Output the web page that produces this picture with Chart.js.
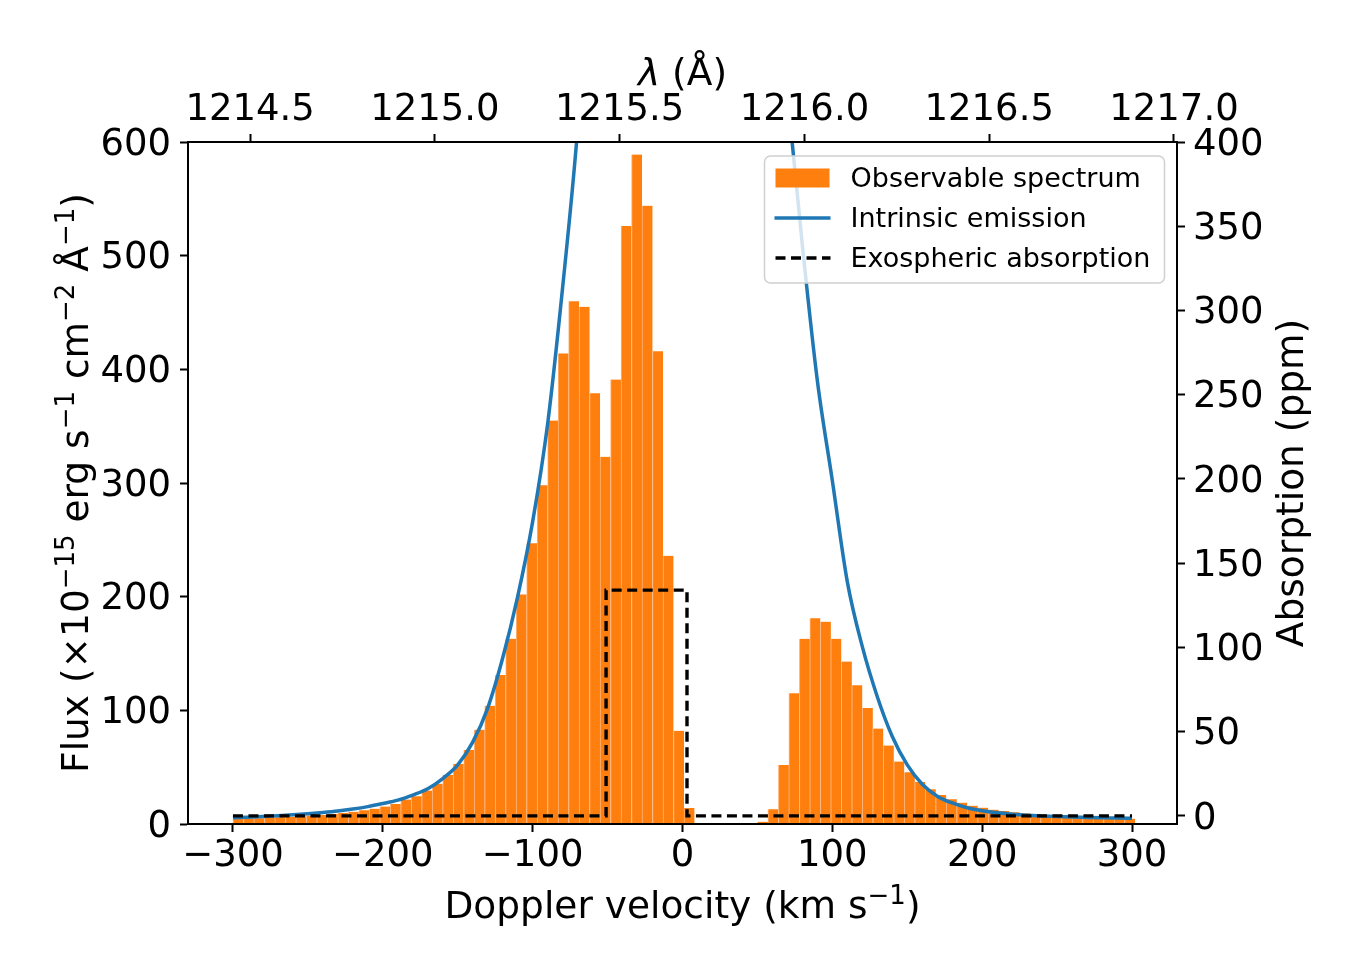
<!DOCTYPE html>
<html>
<head>
<meta charset="utf-8">
<title>Lyman-alpha spectrum</title>
<script src="https://cdn.jsdelivr.net/npm/chart.js@4.4.1/dist/chart.umd.min.js"></script>
<style>
  body { margin: 0; background: #fff; }
  canvas { display: block; }
</style>
</head>
<body>
<canvas id="myChart" width="1350" height="975"></canvas>
<script>
// histogram bins, 7 km/s wide, first edge at -300 km/s
const binStart = -300;
const binWidth = 7;

// observable spectrum, one value per bin (x1e-15 erg s-1 cm-2 A-1)
const observedFlux = [
  4.5, 4.8, 5.1, 5.5, 5.9, 6.3, 6.8, 7.4, 8.0, 8.8,
  9.7, 10.8, 12.0, 13.5, 15.3, 17.5, 21.5, 24.5, 29.5, 35.5,
  43, 53, 65, 83, 104, 131, 163, 202, 247, 298,
  355, 414, 460, 455, 379, 323, 391, 526, 589, 544,
  416, 236, 82, 14, 0, 0, 0, 0, 0, 0,
  2, 13, 52, 115, 163, 181, 178, 163, 143, 122,
  102, 84, 69, 55, 45.5, 37, 30.5, 25.5, 21.7, 18.8,
  16.1, 14.4, 12.6, 11.4, 10.3, 9.4, 8.8, 7.9, 7.3, 6.7,
  6.5, 5.9, 5.6, 5.3, 5.0, 4.7
];

// intrinsic emission line
const emissionVelocity = [
  -300, -290, -280, -270, -260, -250, -240, -230, -220, -210,
  -200, -190, -180, -170, -160, -150, -140, -130, -120, -110,
  -100, -90, -80, -70, -60,
  60, 70, 80, 90, 100, 110, 120, 130, 140, 150,
  160, 170, 180, 190, 200, 210, 220, 230, 240, 250,
  260, 270, 280, 290, 300
];
const emissionFlux = [
  5.5, 6.0, 6.6, 7.3, 8.1, 9.1, 10.2, 11.5, 13.2, 15.3,
  18.0, 21.0, 25.5, 31, 40, 52, 72, 102, 146, 200,
  266, 352, 472, 611, 800,
  800, 642, 509, 390, 302, 213, 156, 112, 77, 52,
  35, 24.5, 18.5, 14.3, 11.6, 9.8, 8.6, 7.7, 7.0, 6.5,
  6.1, 5.8, 5.5, 5.2, 5.0
];

// exospheric absorption (ppm), step profile
const absorptionVelocity = [-300, -51, -51, 3, 3, 300];
const absorptionPpm = [0, 0, 134, 134, 0, 0];

// ticks
const velocityTicks = [-300, -200, -100, 0, 100, 200, 300];
const fluxTicks = [0, 100, 200, 300, 400, 500, 600];
const absorptionTicks = [0, 50, 100, 150, 200, 250, 300, 350, 400];
const wavelengthTicks = [1214.5, 1215.0, 1215.5, 1216.0, 1216.5, 1217.0];

const legendLabels = ["Observable spectrum", "Intrinsic emission", "Exospheric absorption"];

const LYA = 1215.67;       // rest wavelength (A)
const C_KMS = 299792.458;
const V_MIN = -330, V_MAX = 330;

// axis titles, split so the exponents can be drawn raised (like mathtext)
const M = "\u2212";
const fluxTitle = [
  { t: "Flux (\u00D710" }, { t: M + "15", sup: true }, { t: " erg s" }, { t: M + "1", sup: true },
  { t: " cm" }, { t: M + "2", sup: true }, { t: " \u00C5" }, { t: M + "1", sup: true }, { t: ")" }
];
const velocityTitle = [{ t: "Doppler velocity (km s" }, { t: M + "1", sup: true }, { t: ")" }];
const wavelengthTitle = [{ t: "\u03BB", it: true }, { t: " (\u00C5)" }];
const absorptionTitle = [{ t: "Absorption (ppm)" }];

Chart.defaults.font.family = "'DejaVu Sans', sans-serif";
Chart.defaults.color = "#000";

const bigFont = { size: 37, lineHeight: 1.2 };
const gridOpts = { drawOnChartArea: false, drawTicks: true, tickLength: 8, tickWidth: 2, tickColor: "#000", offset: false };
const borderOpts = { display: true, color: "#000", width: 2, z: 1 };

const minus = v => String(v).replace("-", M);
const useTicks = list => scale => { scale.ticks = list.map(v => ({ value: v })); };

let barData = observedFlux.map((f, i) => ({ x: binStart + binWidth * (i + 0.5), y: f }));
let emissionData = emissionVelocity.map((v, i) => ({ x: v, y: emissionFlux[i] }));
let absorptionData = absorptionVelocity.map((v, i) => ({ x: v, y: absorptionPpm[i] }));

function drawTitle(ctx, parts, x, y, angle) {
  ctx.save();
  ctx.translate(x, y);
  ctx.rotate(angle);
  ctx.fillStyle = "#000";
  ctx.textAlign = "left";
  ctx.textBaseline = "alphabetic";
  const fontOf = p => (p.it ? "italic " : "") + (p.sup ? 26 : 37.5) + "px 'DejaVu Sans'";
  let w = 0;
  parts.forEach(p => { ctx.font = fontOf(p); w += ctx.measureText(p.t).width; });
  let cx = -w / 2;
  parts.forEach(p => {
    ctx.font = fontOf(p);
    ctx.fillText(p.t, cx, p.sup ? -14 : 0);
    cx += ctx.measureText(p.t).width;
  });
  ctx.restore();
}

//TITLES + LEGEND (matplotlib style, legend inside the axes)
const extras = {
  id: "extras",
  afterDraw(chart) {
    const ctx = chart.ctx;
    const area = chart.chartArea;
    const midX = (area.left + area.right) / 2;
    const midY = (area.top + area.bottom) / 2;

    drawTitle(ctx, velocityTitle, midX, 918, 0);
    drawTitle(ctx, wavelengthTitle, midX, 85, 0);
    drawTitle(ctx, fluxTitle, 88, midY, -Math.PI / 2);
    drawTitle(ctx, absorptionTitle, 1303, midY, -Math.PI / 2);

    let bx = area.right - 412.5, by = area.top + 14, bw = 400, bh = 127;
    ctx.save();
    ctx.beginPath();
    ctx.roundRect(bx, by, bw, bh, 6);
    ctx.fillStyle = "rgba(255,255,255,0.8)";
    ctx.fill();
    ctx.lineWidth = 1.5;
    ctx.strokeStyle = "#d0d0d0";
    ctx.stroke();

    const ds = chart.data.datasets;
    let hx = bx + 11;
    ctx.fillStyle = ds[0].backgroundColor;
    ctx.fillRect(hx, by + 12.5, 54, 19);

    ctx.lineWidth = ds[1].borderWidth;
    ctx.strokeStyle = ds[1].borderColor;
    ctx.beginPath();
    ctx.moveTo(hx - 1, by + 62);
    ctx.lineTo(hx + 55, by + 62);
    ctx.stroke();

    ctx.lineWidth = ds[2].borderWidth;
    ctx.strokeStyle = ds[2].borderColor;
    ctx.setLineDash(ds[2].borderDash);
    ctx.beginPath();
    ctx.moveTo(hx, by + 102);
    ctx.lineTo(hx + 55, by + 102);
    ctx.stroke();
    ctx.setLineDash([]);

    ctx.font = "27px 'DejaVu Sans'";
    ctx.fillStyle = "#000";
    ctx.textAlign = "left";
    ctx.textBaseline = "middle";
    legendLabels.forEach((t, i) => ctx.fillText(t, bx + 86, by + 24 + 40 * i));
    ctx.restore();
  }
};

//CHART
const ctx = document.getElementById("myChart").getContext("2d");
let myChart = new Chart(ctx, {
  type: "bar",
  data: {
    datasets: [
      {
        type: "bar",
        label: legendLabels[0],
        data: barData,
        backgroundColor: "#ff7f0e",
        borderColor: "#ffb47a",
        borderWidth: { top: 0, right: 0, bottom: 0, left: 1 },
        borderSkipped: false,
        barPercentage: 1,
        categoryPercentage: 1,
        xAxisID: "x",
        yAxisID: "y",
        order: 3
      },
      {
        type: "line",
        label: legendLabels[1],
        data: emissionData,
        borderColor: "#1f77b4",
        borderWidth: 3.5,
        pointRadius: 0,
        cubicInterpolationMode: "monotone",
        xAxisID: "x",
        yAxisID: "y",
        order: 2
      },
      {
        type: "line",
        label: legendLabels[2],
        data: absorptionData,
        borderColor: "#000000",
        borderWidth: 3.4,
        borderDash: [10, 5.5],
        borderJoinStyle: "miter",
        pointRadius: 0,
        tension: 0,
        xAxisID: "x",
        yAxisID: "y2",
        order: 1
      }
    ]
  },
  options: {
    responsive: false,
    devicePixelRatio: 1,
    animation: false,
    layout: { padding: 0 },
    plugins: {
      legend: { display: false },
      tooltip: { enabled: false }
    },
    scales: {
      x: {
        type: "linear", position: "bottom", min: V_MIN, max: V_MAX, offset: false,
        grid: gridOpts, border: borderOpts,
        afterBuildTicks: useTicks(velocityTicks),
        afterFit: s => { s.height = 151; },
        ticks: { font: bigFont, padding: 2, maxRotation: 0, autoSkip: false, callback: v => minus(v) }
      },
      x2: {
        type: "linear", position: "top",
        min: LYA * (1 + V_MIN / C_KMS), max: LYA * (1 + V_MAX / C_KMS), offset: false,
        grid: gridOpts, border: borderOpts,
        afterBuildTicks: useTicks(wavelengthTicks),
        afterFit: s => { s.height = 142; },
        ticks: { font: bigFont, padding: 1, maxRotation: 0, autoSkip: false, callback: v => v.toFixed(1) }
      },
      y: {
        type: "linear", position: "left", min: 0, max: 600,
        grid: gridOpts, border: borderOpts,
        afterBuildTicks: useTicks(fluxTicks),
        afterFit: s => { s.width = 188; },
        ticks: { font: bigFont, padding: 9, labelOffset: 3, autoSkip: false }
      },
      y2: {
        type: "linear", position: "right", min: -4.8, max: 400,
        grid: gridOpts, border: borderOpts,
        afterBuildTicks: useTicks(absorptionTicks),
        afterFit: s => { s.width = 173; },
        ticks: { font: bigFont, padding: 8, labelOffset: 3, autoSkip: false }
      }
    }
  },
  plugins: [extras]
});
</script>
</body>
</html>
